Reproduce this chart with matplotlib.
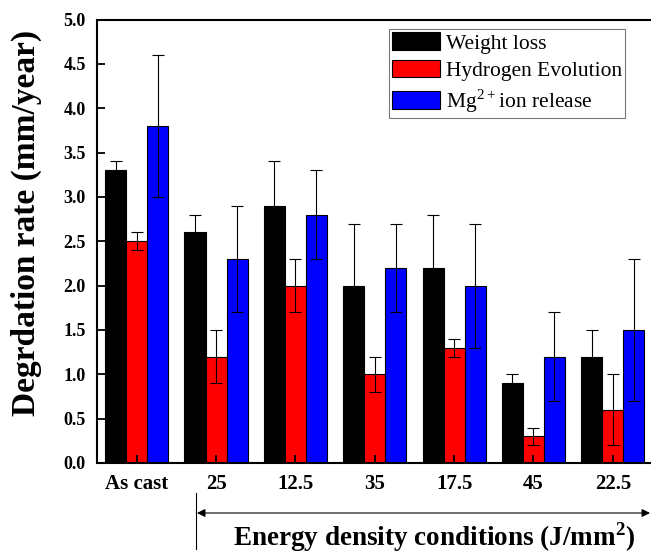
import numpy as np
import matplotlib as mpl
mpl.use('Agg')
import matplotlib.pyplot as plt
from matplotlib.ticker import MultipleLocator, FormatStrFormatter

plt.rcParams['font.family'] = ['Liberation Serif', 'DejaVu Serif']
plt.rcParams['mathtext.fontset'] = 'custom'
plt.rcParams['mathtext.rm'] = 'Liberation Serif'
plt.rcParams['mathtext.bf'] = 'Liberation Serif:bold'

# data
conditions = ['As cast', '25', '12.5', '35', '17.5', '45', '22.5']
weight_loss = [3.3, 2.6, 2.9, 2.0, 2.2, 0.9, 1.2]
weight_err = [0.1, 0.2, 0.5, 0.7, 0.6, 0.1, 0.3]
hydrogen = [2.5, 1.2, 2.0, 1.0, 1.3, 0.3, 0.6]
hydrogen_err = [0.1, 0.3, 0.3, 0.2, 0.1, 0.1, 0.4]
mg_release = [3.8, 2.3, 2.8, 2.2, 2.0, 1.2, 1.5]
mg_err = [0.8, 0.6, 0.5, 0.5, 0.7, 0.5, 0.8]
labels = ['Weight loss', 'Hydrogen Evolution', 'Mg$^{\\mathrm{2+}}$ion release']
colors = ['black', 'red', 'blue']

fig = plt.figure(figsize=(6.51, 5.55), dpi=100)
ax = fig.add_axes([0.149, 0.1658, 0.8533, 0.799])

x = np.arange(len(conditions))
w = 0.265
err_kw = dict(ecolor='black', elinewidth=0.8, capsize=4, capthick=0.8)
series = [(weight_loss, weight_err), (hydrogen, hydrogen_err), (mg_release, mg_err)]
handles = []
for i, (vals, errs) in enumerate(series):
    b = ax.bar(x + (i - 1) * w, vals, w, yerr=errs, color=colors[i],
               edgecolor='black', linewidth=0.8, error_kw=err_kw, label=labels[i])
    handles.append(b)

ax.set_xlim(-0.5, 6.5)
ax.set_ylim(0, 5.0)
ax.set_xticks(x)
ax.set_xticklabels(conditions, fontsize=15, fontweight='bold')
ax.yaxis.set_major_locator(MultipleLocator(0.5))
ax.yaxis.set_major_formatter(FormatStrFormatter('%.1f'))
for lab in ax.get_yticklabels():
    lab.set_fontweight('bold')
    lab.set_fontsize(13)
ax.tick_params(axis='both', direction='in', length=6, width=1.3)
ax.tick_params(axis='y', pad=8)
ax.tick_params(axis='x', pad=8)
for s in ax.spines.values():
    s.set_linewidth(1.5)

fig.text(0.040, 0.598, 'Degrdation rate (mm/year)', rotation=90, fontsize=24,
         fontweight='bold', ha='center', va='center')
fig.text(0.667, 0.032, 'Energy density conditions (J/mm$^{\\mathbf{2}}$)', fontsize=19.5,
         fontweight='bold', ha='center', va='center')

# arrow under the laser conditions
fig.add_artist(plt.Line2D([196 / 651, 196 / 651], [1 - 493 / 555, 1 - 549 / 555],
                          transform=fig.transFigure, color='black', lw=0.8))
ax.annotate('', xy=(650 / 651, 1 - 513 / 555), xytext=(197 / 651, 1 - 513 / 555),
            xycoords='figure fraction', textcoords='figure fraction',
            arrowprops=dict(arrowstyle='<|-|>', color='black', lw=0.8,
                            mutation_scale=12, shrinkA=0, shrinkB=0),
            annotation_clip=False)

leg = ax.legend(handles=handles, loc='upper left', bbox_to_anchor=(389 / 651, 1 - 29 / 555),
                bbox_transform=fig.transFigure, fontsize=15.5, frameon=True, fancybox=False,
                edgecolor='#555555', borderaxespad=0, borderpad=0.15, labelspacing=0.28,
                handlelength=2.2, handleheight=0.9, handletextpad=0.3)
leg.get_frame().set_linewidth(0.8)

plt.savefig('out.png', dpi=100)
